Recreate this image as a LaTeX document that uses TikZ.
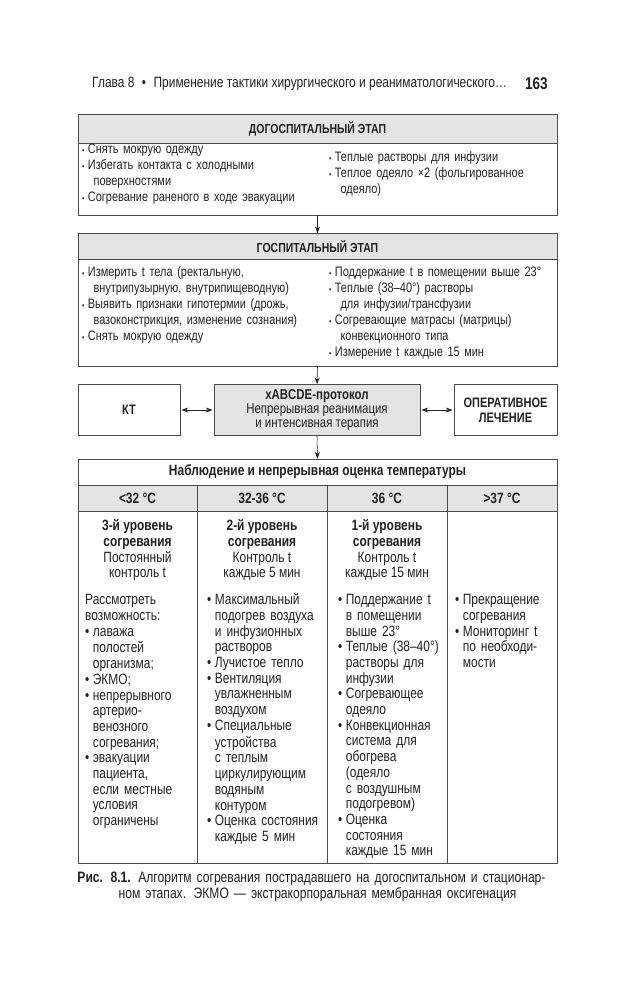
\documentclass[tikz,border=0pt]{standalone}
\usepackage{fontspec}
\setmainfont{Liberation Sans}[FakeStretch=0.8]
\usepackage{xcolor}
\usepackage{tikz}
\usetikzlibrary{arrows.meta,positioning,fit,calc}
\definecolor{cinzaCaixa}{HTML}{E4E4E4}
\definecolor{linha}{HTML}{4A4A4A}
\definecolor{texto}{HTML}{222222}
% marcadores de lista (tabela e etapas)
\newcommand{\pontoTab}{\noindent\hangindent=2.3mm\hangafter=1\makebox[2.3mm][l]{\textbullet}\strut}
\newcommand{\pontoEt}{\noindent\hangindent=3.4mm\hangafter=1\makebox[1.7mm][l]{\scriptsize\textbullet}\strut}
\newcommand{\marca}{\par\pontoTab}
\newcommand{\marcaP}{\par\pontoEt}
\tikzset{
    caixa/.style={
        rectangle,
        draw=linha,
        line width=0.6pt,
        inner sep=0pt
    },
    cinza/.style={caixa, fill=cinzaCaixa},
    rotulo/.style={inner sep=0pt, align=center, text=texto},
    titulo/.style={rotulo, font=\bfseries\fontsize{11.2}{13}\selectfont},
    lateral/.style={rotulo, font=\bfseries\fontsize{11.7}{13.2}\selectfont},
    lista/.style={
        inner sep=0pt,
        anchor=north west,
        align=left,
        text=texto,
        font=\fontsize{11.7}{13.66}\selectfont
    },
    listaTab/.style={lista, font=\fontsize{12.75}{13.4}\selectfont},
    nivel/.style={inner sep=0pt, anchor=north, align=center, text=texto, font=\fontsize{12.75}{13.4}\selectfont},
    fluxo/.style={-{Stealth[length=2mm,width=1.5mm]}, line width=0.5pt, draw=texto},
    fluxoDuplo/.style={{Stealth[length=2mm,width=1.5mm]}-{Stealth[length=2mm,width=1.5mm]},
        line width=0.5pt, draw=texto, shorten <=1pt, shorten >=1pt}
}

\begin{document}
\begin{tikzpicture}[x=0.3mm, y=-0.3mm]
    \useasboundingbox (0,0) rectangle (643,1000);
    \fill[white] (0,0) rectangle (643,1000);

    % cabecalho da pagina
    \node[anchor=west, inner sep=0pt, text=texto, font=\fontsize{12.75}{14}\selectfont] (cabecalho) at (92,83.5)
        {Глава 8\enspace\textbullet\enspace Применение тактики хирургического и реаниматологического…};
    \node[anchor=east, inner sep=0pt, text=texto, font=\bfseries\fontsize{14.5}{16}\selectfont] (pagina) at (548,83.5) {163};

    % etapa pre-hospitalar
    \node[cinza, fit={(78,114) (557,143)}] (preTit) {};
    \node[titulo] (preTitTxt) at (preTit.center) {ДОГОСПИТАЛЬНЫЙ ЭТАП};
    \node[caixa, fit={(78,143) (557,215)}] (preCorpo) {};
    \node[lista, text width=72mm] (preEsq) at (82,142.3)
        {\pontoEt Снять мокрую одежду
         \marcaP Избегать контакта с холодными\newline поверхностями
         \marcaP Согревание раненого в ходе эвакуации\par};
    \node[lista, text width=68mm] (preDir) at (329,149.7)
        {\pontoEt Теплые растворы для инфузии
         \marcaP Теплое одеяло ×2 (фольгированное\newline одеяло)\par};

    % etapa hospitalar
    \node[cinza, fit={(78,233.5) (557,259.5)}] (hospTit) {};
    \node[titulo] (hospTitTxt) at (hospTit.center) {ГОСПИТАЛЬНЫЙ ЭТАП};
    \node[caixa, fit={(78,259.5) (557,366)}] (hospCorpo) {};
    \node[lista, text width=72mm] (hospEsq) at (82,265.2)
        {\pontoEt Измерить t тела (ректальную,\newline внутрипузырную, внутрипищеводную)
         \marcaP Выявить признаки гипотермии (дрожь,\newline вазоконстрикция, изменение сознания)
         \marcaP Снять мокрую одежду\par};
    \node[lista, text width=68mm] (hospDir) at (329,265.2)
        {\pontoEt Поддержание t в помещении выше 23°
         \marcaP Теплые (38–40°) растворы\newline для инфузии/трансфузии
         \marcaP Согревающие матрасы (матрицы)\newline конвекционного типа
         \marcaP Измерение t каждые 15 мин\par};

    % protocolo e ramos laterais
    \node[caixa, fit={(78,384.5) (180,435.5)}] (kt) {};
    \node[lateral] (ktTxt) at (kt.center) {КТ};
    \node[cinza, fit={(214,384.5) (420,435.5)}] (protocolo) {};
    \node[rotulo, font=\fontsize{12.2}{12}\selectfont] (protocoloTxt) at (protocolo.center)
        {\textbf{xABCDE-протокол}\\Непрерывная реанимация\\и интенсивная терапия};
    \node[caixa, fit={(454,384.5) (557,435.5)}] (cirurgia) {};
    \node[lateral] (cirurgiaTxt) at (cirurgia.center) {ОПЕРАТИВНОЕ\\ЛЕЧЕНИЕ};

    % tabela de temperatura
    \node[caixa, fit={(78,459) (557,485)}] (tabTit) {};
    \node[rotulo, font=\bfseries\fontsize{12.75}{14}\selectfont] (tabTitTxt) at (tabTit.center)
        {Наблюдение и непрерывная оценка температуры};
    \foreach \nome/\xa/\xb/\faixa in {1/78/197/{<32 °C}, 2/197/327/{32-36 °C},
                                      3/327/447/{36 °C}, 4/447/557/{>37 °C}} {
        \node[cinza, fit={(\xa,485) (\xb,511)}] (cab\nome) {};
        \node[rotulo, font=\bfseries\fontsize{12.75}{14}\selectfont] (faixa\nome) at (cab\nome.center) {\faixa};
        \node[caixa, fit={(\xa,511) (\xb,863)}] (cel\nome) {};
    }

    \node[nivel] (nivel1) at (137.5,519.4)
        {\strut\textbf{3-й уровень}\\\textbf{согревания}\\Постоянный\\контроль t};
    \node[nivel] (nivel2) at (262,519.4)
        {\strut\textbf{2-й уровень}\\\textbf{согревания}\\Контроль t\\каждые 5 мин};
    \node[nivel] (nivel3) at (387,519.4)
        {\strut\textbf{1-й уровень}\\\textbf{согревания}\\Контроль t\\каждые 15 мин};

    \node[listaTab, text width=33.6mm] (lista1) at (85,593.4)
        {\strut Рассмотреть\newline возможность:
         \marca лаважа\newline полостей\newline организма;
         \marca ЭКМО;
         \marca непрерывного\newline артерио-\newline венозного\newline согревания;
         \marca эвакуации\newline пациента,\newline если местные\newline условия\newline ограничены\par};
    \node[listaTab, text width=36mm] (lista2) at (207,593.4)
        {\pontoTab Максимальный\newline подогрев воздуха\newline и инфузионных\newline растворов
         \marca Лучистое тепло
         \marca Вентиляция\newline увлажненным\newline воздухом
         \marca Специальные\newline устройства\newline с теплым\newline циркулирующим\newline водяным\newline контуром
         \marca Оценка состояния\newline каждые 5 мин\par};
    \node[listaTab, text width=32.7mm] (lista3) at (338,593.4)
        {\pontoTab Поддержание t\newline в помещении\newline выше 23°
         \marca Теплые (38–40°)\newline растворы для\newline инфузии
         \marca Согревающее\newline одеяло
         \marca Конвекционная\newline система для\newline обогрева\newline (одеяло\newline с воздушным\newline подогревом)
         \marca Оценка\newline состояния\newline каждые 15 мин\par};
    \node[listaTab, text width=30.6mm] (lista4) at (455,593.4)
        {\pontoTab Прекращение\newline согревания
         \marca Мониторинг t\newline по необходи-\newline мости\par};

    % legenda
    \node[anchor=north, inner sep=0pt, align=center, text width=144mm, text=texto,
        font=\fontsize{12.9}{13.66}\selectfont] (legenda) at (317.5,871)
        {\makebox[\hsize][s]{\strut\textbf{Рис. 8.1.} Алгоритм согревания пострадавшего на догоспитальном и стационар-}\\ном этапах. ЭКМО — экстракорпоральная мембранная оксигенация};

    % conexoes
    \draw[fluxo] (preCorpo.south) -- (hospTit.north);
    \draw[fluxo] (hospCorpo.south) -- (protocolo.north);
    \draw[fluxo] (protocolo.south) -- (tabTit.north);
    \draw[fluxoDuplo] (kt.east) -- (protocolo.west);
    \draw[fluxoDuplo] (protocolo.east) -- (cirurgia.west);
\end{tikzpicture}
\end{document}
